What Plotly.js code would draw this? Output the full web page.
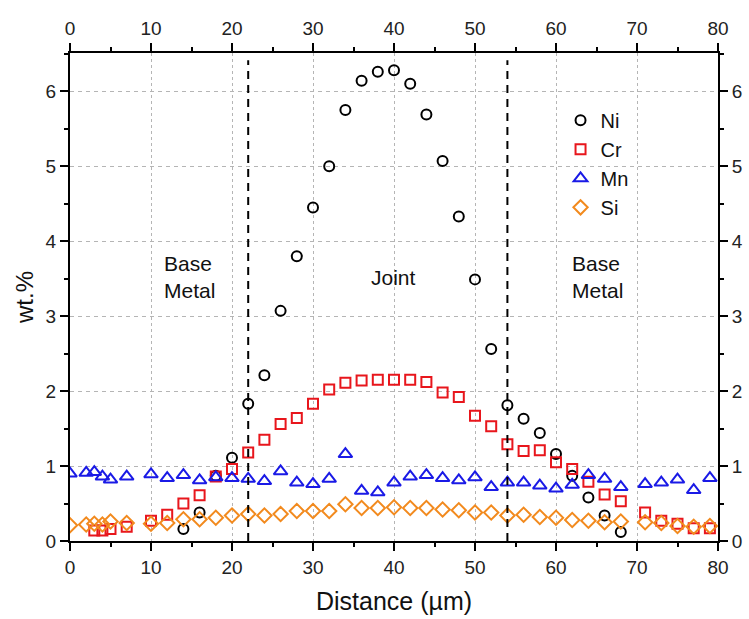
<!DOCTYPE html>
<html>
<head>
<meta charset="utf-8">
<script src="https://cdn.plot.ly/plotly-3.0.1.min.js"></script>
<style>html,body{margin:0;padding:0;background:#fff;}#chart{width:749px;height:619px;}</style>
</head>
<body>
<div id="chart"></div>
<script>
// ---- data ----
const niX = [14,16,18,20,22,24,26,28,30,32,34,36,38,40,42,44,46,48,50,52,54,56,58,60,62,64,66,68];
const niY = [0.16,0.38,0.87,1.11,1.83,2.21,3.07,3.80,4.45,5.00,5.75,6.14,6.26,6.28,6.10,5.69,5.07,4.33,3.49,2.56,1.81,1.63,1.44,1.16,0.87,0.58,0.34,0.12];

const crX = [3,4,5,7,10,12,14,16,18,20,22,24,26,28,30,32,34,36,38,40,42,44,46,48,50,52,54,56,58,60,62,64,66,68,71,73,75,77,79];
const crY = [0.14,0.14,0.16,0.19,0.27,0.35,0.50,0.61,0.86,0.96,1.18,1.35,1.56,1.64,1.83,2.02,2.11,2.14,2.15,2.15,2.15,2.12,1.98,1.92,1.67,1.53,1.29,1.20,1.21,1.05,0.96,0.79,0.62,0.53,0.38,0.27,0.23,0.17,0.17];

const mnX = [0,2,3,4,5,7,10,12,14,16,18,20,22,24,26,28,30,32,34,36,38,40,42,44,46,48,50,52,54,56,58,60,62,64,66,68,71,73,75,77,79];
const mnY = [0.90,0.91,0.92,0.86,0.82,0.86,0.89,0.84,0.88,0.81,0.85,0.84,0.83,0.80,0.93,0.78,0.76,0.83,1.16,0.67,0.65,0.78,0.86,0.88,0.84,0.81,0.85,0.72,0.78,0.78,0.74,0.70,0.75,0.88,0.83,0.72,0.76,0.78,0.82,0.68,0.84];

const siX = [0,2,3,4,5,7,10,12,14,16,18,20,22,24,26,28,30,32,34,36,38,40,42,44,46,48,50,52,54,56,58,60,62,64,66,68,71,73,75,77,79];
const siY = [0.21,0.22,0.23,0.22,0.26,0.24,0.23,0.24,0.29,0.29,0.31,0.34,0.36,0.34,0.36,0.40,0.40,0.40,0.49,0.44,0.44,0.45,0.44,0.44,0.42,0.41,0.38,0.38,0.34,0.35,0.32,0.31,0.28,0.27,0.25,0.26,0.25,0.24,0.20,0.19,0.20];

const boundaries = [22, 54];
const regionLabels = ["Base<br>Metal", "Joint", "Base<br>Metal"];
const xTickVals = [0,10,20,30,40,50,60,70,80];
const yTickVals = [0,1,2,3,4,5,6];

// ---- chart ----
const FONT = "Liberation Sans, Arial, sans-serif";
function mk(name, x, y, symbol, color, size) {
  return {type:'scatter', mode:'markers', name:name, x:x, y:y,
    marker:{symbol:symbol, size:size, color:color, line:{color:color, width:2}}};
}
const traces = [
  mk('Ni', niX, niY, 'circle-open', '#000000', 10),
  mk('Cr', crX, crY, 'square-open', '#e8161c', 10),
  mk('Mn', mnX, mnY, 'triangle-up-open', '#1a1ae6', 12),
  mk('Si', siX, siY, 'diamond-open', '#f28a1e', 11),
  {type:'scatter', mode:'markers', x:[], y:[], xaxis:'x2', yaxis:'y2', showlegend:false, hoverinfo:'skip'}
];

const axisCommon = {
  showline:true, linecolor:'#000', linewidth:2,
  ticks:'outside', ticklen:8, tickwidth:2, tickcolor:'#000',
  tickfont:{family:FONT, size:19, color:'#222'},
  zeroline:false
};
const xBase = Object.assign({}, axisCommon, {
  range:[0,80], tickmode:'array', tickvals:xTickVals,
  minor:{dtick:5, ticklen:4, tickwidth:2, tickcolor:'#000', showgrid:false, ticks:'outside'}
});
const yBase = Object.assign({}, axisCommon, {
  range:[0,6.51], tickmode:'array', tickvals:yTickVals,
  minor:{dtick:0.5, ticklen:4, tickwidth:2, tickcolor:'#000', showgrid:false, ticks:'outside'}
});

const shapes = boundaries.map(b => ({
  type:'line', xref:'x', yref:'paper', x0:b, x1:b, y0:0, y1:0.985,
  line:{color:'#000', width:2, dash:'8px,6px'}
}));

const annPos = [{x:11.4, y:3.52, xanchor:'left'}, {x:39.9, y:3.52, xanchor:'center'}, {x:61.7, y:3.52, xanchor:'left'}];
const annotations = regionLabels.map((t,i) => ({
  text:t, x:annPos[i].x, y:annPos[i].y, xref:'x', yref:'y', showarrow:false,
  xanchor:annPos[i].xanchor, yanchor:'middle', align:'left',
  font:{family:FONT, size:21, color:'#111'}
}));

const layout = {
  width:749, height:619,
  margin:{l:70, r:31, t:53, b:78},
  paper_bgcolor:'#fff', plot_bgcolor:'#fff',
  font:{family:FONT, color:'#111'},
  showlegend:true,
  legend:{x:0.757, y:0.902, xanchor:'left', yanchor:'top', bgcolor:'rgba(0,0,0,0)',
          font:{family:FONT, size:20, color:'#111'}, tracegroupgap:0, itemwidth:30},
  xaxis: Object.assign({}, xBase, {
    showgrid:true, gridcolor:'#b5b5b5', gridwidth:1, griddash:'3px,3px',
    title:{text:'Distance (µm)', font:{family:FONT, size:25, color:'#111'}, standoff:16}
  }),
  yaxis: Object.assign({}, yBase, {
    showgrid:true, gridcolor:'#b5b5b5', gridwidth:1, griddash:'4px,4px',
    title:{text:'wt.%', font:{family:FONT, size:24, color:'#111'}, standoff:5}
  }),
  xaxis2: Object.assign({}, xBase, {overlaying:'x', side:'top', anchor:'y', showgrid:false}),
  yaxis2: Object.assign({}, yBase, {overlaying:'y', side:'right', anchor:'x', showgrid:false}),
  shapes: shapes,
  annotations: annotations
};

Plotly.newPlot('chart', traces, layout, {displayModeBar:false, staticPlot:true});
</script>
</body>
</html>
